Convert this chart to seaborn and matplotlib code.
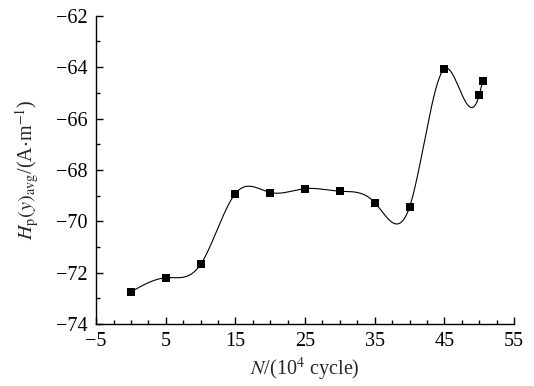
import numpy as np
import pandas as pd
import matplotlib
matplotlib.use("Agg")
import matplotlib.pyplot as plt
from matplotlib.ticker import MultipleLocator, FixedLocator, FixedFormatter
import seaborn as sns

# Data
cycles = [0, 5, 10, 15, 20, 25, 30, 35, 40, 45, 50, 50.5]
hp_avg = [-72.75, -72.2, -71.68, -68.92, -68.88, -68.73, -68.83, -69.27, -69.45, -64.07, -65.1, -64.53]
x_tick_labels = ["\u22125", "5", "15", "25", "35", "45", "55"]
y_ticks = [-74, -72, -70, -68, -66, -64, -62]


def natural_cubic_spline(x, y, xs):
    x = np.asarray(x, float)
    y = np.asarray(y, float)
    n = len(x)
    h = np.diff(x)
    A = np.zeros((n, n))
    b = np.zeros(n)
    A[0, 0] = 1
    A[-1, -1] = 1
    for i in range(1, n - 1):
        A[i, i - 1] = h[i - 1]
        A[i, i] = 2 * (h[i - 1] + h[i])
        A[i, i + 1] = h[i]
        b[i] = 6 * ((y[i + 1] - y[i]) / h[i] - (y[i] - y[i - 1]) / h[i - 1])
    M = np.linalg.solve(A, b)
    idx = np.clip(np.searchsorted(x, xs) - 1, 0, n - 2)
    x0, x1 = x[idx], x[idx + 1]
    hh = x1 - x0
    t0 = x1 - xs
    t1 = xs - x0
    return (M[idx] * t0 ** 3 / (6 * hh) + M[idx + 1] * t1 ** 3 / (6 * hh)
            + (y[idx] / hh - M[idx] * hh / 6) * t0
            + (y[idx + 1] / hh - M[idx + 1] * hh / 6) * t1)


sns.set_theme(style="ticks")
plt.rcParams["font.family"] = ["Liberation Serif", "DejaVu Serif"]
plt.rcParams["mathtext.fontset"] = "stix"

xs = np.linspace(cycles[0], cycles[-1], 800)
curve = pd.DataFrame({"N": xs, "H": natural_cubic_spline(cycles, hp_avg, xs)})
pts = pd.DataFrame({"N": cycles, "H": hp_avg})

fig = plt.figure(figsize=(5.34, 3.86), dpi=100)
ax = fig.add_axes([0.18, 0.1606, 0.7825, 0.7985])

sns.lineplot(data=curve, x="N", y="H", ax=ax, color="black", linewidth=0.8, sort=False)
sns.scatterplot(data=pts, x="N", y="H", ax=ax, marker="s", color="black",
                s=36, edgecolor="black", linewidth=0, zorder=3)

ax.set_xlim(-5, 55)
ax.set_ylim(-74, -62)
ax.xaxis.set_major_locator(FixedLocator([-5, 5, 15, 25, 35, 45, 55]))
ax.xaxis.set_major_formatter(FixedFormatter(x_tick_labels))
ax.xaxis.set_minor_locator(MultipleLocator(2.5))
ax.set_yticks(y_ticks)
ax.set_yticklabels(["\u2212%d" % abs(v) for v in y_ticks])
ax.yaxis.set_minor_locator(MultipleLocator(1))

ax.tick_params(axis="both", which="major", direction="in", length=5, width=1,
               labelsize=14.5, colors="black")
ax.tick_params(axis="x", which="major", pad=6)
ax.tick_params(axis="y", which="major", pad=6)
ax.tick_params(axis="both", which="minor", direction="in", length=3, width=1, colors="black")
for sp in ["top", "right"]:
    ax.spines[sp].set_visible(False)
for sp in ["left", "bottom"]:
    ax.spines[sp].set_linewidth(1)
    ax.spines[sp].set_color("black")

ax.set_xlabel(r"$N$/(10$^4$ cycle)", fontsize=14.5, labelpad=3)
ax.set_ylabel(r"$H_{\rm p}(y)_{\rm avg}$/(A$\cdot$m$^{-1}$)", fontsize=14.5, labelpad=11)
ax.set_facecolor("white")

fig.savefig("out.png", dpi=100)
